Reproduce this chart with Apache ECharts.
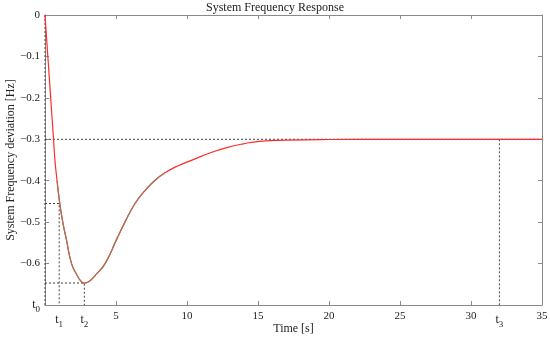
<!DOCTYPE html>
<html>
<head>
<meta charset="utf-8">
<script src="https://cdn.jsdelivr.net/npm/echarts@6/dist/echarts.min.js"></script>
<style>html,body{margin:0;padding:0;background:#fff}#c{width:550px;height:337px}</style>
</head>
<body>
<div id="c"></div>
<script>
// Curve samples (time [s], frequency deviation [Hz])
var times  = [0, 0.2, 0.4, 0.6, 0.7, 0.85, 1.04, 1.25, 1.5, 1.87, 2.27, 2.5, 2.75, 3.1, 3.52, 4.23, 5.05, 5.63, 6.34, 7.04, 7.75, 8.45, 9.3, 10.44, 11.6, 12.8, 13.96, 15.1, 17, 20, 25, 30, 35];
var values = [0, -0.10, -0.20, -0.30, -0.35, -0.40, -0.455, -0.50, -0.541, -0.60, -0.629, -0.641, -0.647, -0.643, -0.629, -0.60, -0.541, -0.50, -0.455, -0.424, -0.399, -0.381, -0.365, -0.349, -0.333, -0.320, -0.311, -0.305, -0.302, -0.3005, -0.300, -0.300, -0.300];
// brown overlay segment: index range within the curve arrays
var overlayFrom = 5, overlayTo = 21;
// marker instants t0..t3 and the levels their guide lines go to
var markerTimes  = [0, 1.0, 2.77, 32];
var markerLevels = [0, -0.455, -0.647, -0.3];
var markerNames  = ['0', '1', '2', '3'];
var xTicks = [0, 5, 10, 15, 20, 25, 30, 35];
var yMin = -0.7, yMax = 0;

var curve = times.map(function (t, i) { return [t, values[i]]; });
var overlay = curve.slice(overlayFrom, overlayTo + 1);
var guideStyle = { color: '#444', width: 1, type: [2, 2] };
var guides = [];
guides.push([[markerTimes[0], markerLevels[0]], [markerTimes[0], yMin]]);
for (var k = 1; k <= 2; k++) {
  guides.push([[0, markerLevels[k]], [markerTimes[k], markerLevels[k]], [markerTimes[k], yMin]]);
}
guides.push([[0, markerLevels[3]], [xTicks[xTicks.length - 1], markerLevels[3]]]);
guides.push([[markerTimes[3], markerLevels[3]], [markerTimes[3], yMin]]);

var font = 'Liberation Serif';
var rich = {
  t: { fontFamily: font, fontSize: 12, color: '#222' },
  s: { fontFamily: font, fontSize: 9, color: '#222', padding: [9, 0, 0, 0] }
};
function fmtY(v) {
  if (Math.abs(v - yMin) < 1e-9) return '{t|t}{s|' + markerNames[0] + '}';
  if (Math.abs(v) < 1e-9) return '0';
  return '\u2212' + Math.abs(v).toFixed(1);
}

var series = [];
guides.forEach(function (g) {
  series.push({ type: 'line', data: g, symbol: 'none', lineStyle: guideStyle, silent: true, z: 1, animation: false });
});
series.push({ type: 'line', data: curve, symbol: 'none', smooth: 0.5, lineStyle: { color: '#ff2b2b', width: 1.2 }, z: 3, animation: false });
series.push({ type: 'line', data: overlay, symbol: 'none', smooth: 0.5, lineStyle: { color: '#9c7a5a', width: 1.2 }, z: 4, animation: false });

var axisLine = { show: true, onZero: false, lineStyle: { color: '#8a8a8a', width: 1 } };
var tick = { inside: true, length: 4, lineStyle: { color: '#8a8a8a' } };
var chart = echarts.init(document.getElementById('c'), null, { renderer: 'canvas' });
chart.setOption({
  animation: false,
  backgroundColor: '#fff',
  title: {
    text: 'System Frequency Response', left: 'center', top: 2, padding: 0,
    textStyle: { fontFamily: font, fontSize: 12, fontWeight: 'normal', color: '#222' }
  },
  grid: { left: 45, right: 8, top: 15, bottom: 32, outerBoundsMode: 'none', containLabel: false },
  xAxis: [{
    type: 'value', min: 0, max: 35, interval: 5, position: 'bottom',
    name: 'Time [s]', nameLocation: 'middle', nameGap: 18, nameMoveOverlap: false,
    nameTextStyle: { fontFamily: font, fontSize: 12, color: '#222' },
    axisLine: axisLine, splitLine: { show: false }, axisTick: tick,
    axisLabel: { fontFamily: font, fontSize: 11, color: '#222', margin: 6,
      formatter: function (v) { return v === 0 ? '' : String(v); } }
  }, {
    type: 'value', min: 0, max: 35, position: 'bottom',
    axisLine: { show: false, onZero: false }, splitLine: { show: false },
    axisTick: { show: false },
    axisLabel: { show: true, customValues: markerTimes.slice(1), margin: 6, rich: rich,
      formatter: function (v) {
        var i = markerTimes.indexOf(v);
        return '{t|t}{s|' + markerNames[i] + '}';
      } }
  }, {
    type: 'value', min: 0, max: 35, interval: 5, position: 'top',
    axisLine: axisLine, splitLine: { show: false }, axisTick: tick,
    axisLabel: { show: false }
  }],
  yAxis: [{
    type: 'value', min: yMin, max: yMax, interval: 0.1, position: 'left',
    name: 'System Frequency deviation [Hz]', nameLocation: 'middle', nameGap: 28, nameMoveOverlap: false,
    nameTextStyle: { fontFamily: font, fontSize: 12, color: '#222' },
    axisLine: axisLine, splitLine: { show: false }, axisTick: tick,
    axisLabel: { fontFamily: font, fontSize: 11, color: '#222', margin: 5, formatter: fmtY, rich: rich }
  }, {
    type: 'value', min: yMin, max: yMax, interval: 0.1, position: 'right',
    axisLine: axisLine, splitLine: { show: false }, axisTick: tick,
    axisLabel: { show: false }
  }],
  series: series
});
</script>
</body>
</html>
